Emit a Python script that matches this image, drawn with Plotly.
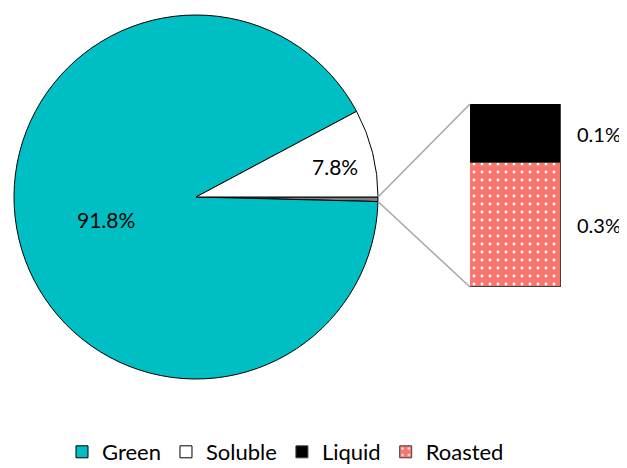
import math
import plotly.graph_objects as go

# ---------------- data ----------------
pie_labels = ["Other", "Green", "Soluble"]
green_value = 91.8
soluble_value = 7.8
bar_labels = ["Liquid", "Roasted"]
bar_values = [0.13, 0.27]          # detail of the small "Other" slice
legend_labels = ["Green", "Soluble", "Liquid", "Roasted"]

other_value = sum(bar_values)
pie_values = [other_value, green_value, soluble_value]
total = sum(pie_values)

# ---------------- style / layout constants ----------------
W, H = 627, 468
OFF = 8  # browser page margin around the figure
FONT = "Lato, Carlito, Calibri, sans-serif"
C_GREEN = "#00BFC4"
C_SOLUBLE = "#FFFFFF"
C_OTHER = "#7F7F7F"
C_LIQUID = "#000000"
C_ROASTED = "#F8766D"
pie_colors = [C_OTHER, C_GREEN, C_SOLUBLE]


def fx(px):
    return (px - OFF) / W


def fy(py):
    return 1 - (py - OFF) / H


pie_dom_x = [fx(14), fx(378)]
pie_dom_y = [fy(380), fy(14)]
bar_dom_x = [fx(470), fx(561)]
bar_dom_y = [fy(287), fy(104)]
rotation_deg = 90  # first slice starts at 3 o'clock, going clockwise

fig = go.Figure()

fig.add_trace(go.Pie(
    labels=pie_labels, values=pie_values, sort=False,
    direction="clockwise", rotation=rotation_deg,
    marker=dict(colors=pie_colors, line=dict(color="#000000", width=1)),
    textinfo="none", hoverinfo="label+percent", showlegend=False,
    domain=dict(x=pie_dom_x, y=pie_dom_y),
))

# stacked bar (Roasted bottom, Liquid top)
bar_colors = {"Liquid": C_LIQUID, "Roasted": C_ROASTED}
for lab in ["Roasted", "Liquid"]:
    v = bar_values[bar_labels.index(lab)]
    mk = dict(color=bar_colors[lab], line=dict(color="#404040", width=1))
    if lab == "Roasted":
        mk["pattern"] = dict(shape=".", fgcolor="#FFFFFF", bgcolor=C_ROASTED,
                             size=8, solidity=0.1, fillmode="replace")
    fig.add_trace(go.Bar(
        x=[0], y=[v], width=[1], name=lab, marker=mk,
        legendrank=legend_labels.index(lab) + 1,
        xaxis="x", yaxis="y",
    ))

# legend-only entries for pie slices
for lab, col in [("Green", C_GREEN), ("Soluble", C_SOLUBLE)]:
    fig.add_trace(go.Bar(
        x=[None], y=[None], name=lab,
        marker=dict(color=col, line=dict(color="#000000", width=1)),
        legendrank=legend_labels.index(lab) + 1,
        xaxis="x", yaxis="y",
    ))

# ---------------- pie geometry for labels and connectors ----------------
cx = (pie_dom_x[0] + pie_dom_x[1]) / 2 * W
cy = (1 - (pie_dom_y[0] + pie_dom_y[1]) / 2) * H
R = min((pie_dom_x[1] - pie_dom_x[0]) * W, (pie_dom_y[1] - pie_dom_y[0]) * H) / 2


def to_paper(px, py):
    return px / W, 1 - py / H


angles = []
a = 90 - rotation_deg  # math angle where the first slice starts
for v in pie_values:
    span = v / total * 360
    angles.append((a, a - span))
    a -= span

label_radius = {"Green": 0.51, "Soluble": 0.78}
label_angle_shift = {"Green": 1.0, "Soluble": -1.8}
annotations = []
for lab, v, (a0, a1) in zip(pie_labels, pie_values, angles):
    if lab not in label_radius:
        continue
    mid = math.radians((a0 + a1) / 2 + label_angle_shift[lab])
    px = cx + label_radius[lab] * R * math.cos(mid)
    py = cy - label_radius[lab] * R * math.sin(mid)
    xp, yp = to_paper(px, py)
    annotations.append(dict(
        x=xp, y=yp, xref="paper", yref="paper", showarrow=False,
        text=f"{v / total * 100:.1f}%", font=dict(size=21, color="#000000", family=FONT),
        xanchor="center", yanchor="middle",
    ))

# bar labels
cum = 0
for lab in ["Roasted", "Liquid"]:
    v = bar_values[bar_labels.index(lab)]
    annotations.append(dict(
        x=0.5, y=cum + v / 2, xref="x", yref="y", showarrow=False,
        text=f"{v / total * 100:.1f}%", xanchor="left", yanchor="middle", xshift=14,
        font=dict(size=20, color="#000000", family=FONT),
    ))
    cum += v

# connector lines from the "Other" slice to the bar
oa0, oa1 = angles[pie_labels.index("Other")]
p_top = (cx + R * math.cos(math.radians(oa0)), cy - R * math.sin(math.radians(oa0)))
p_bot = (cx + R * math.cos(math.radians(oa1)), cy - R * math.sin(math.radians(oa1)))
shapes = []
for (px, py), ybar in [(p_top, bar_dom_y[1]), (p_bot, bar_dom_y[0])]:
    x0, y0 = to_paper(px, py)
    shapes.append(dict(type="line", xref="paper", yref="paper",
                       x0=x0, y0=y0, x1=bar_dom_x[0], y1=ybar,
                       line=dict(color="#A6A6A6", width=1.5)))

fig.update_layout(
    width=W, height=H,
    margin=dict(l=0, r=0, t=0, b=0),
    paper_bgcolor="#FFFFFF", plot_bgcolor="rgba(0,0,0,0)",
    barmode="stack", bargap=0,
    font=dict(family=FONT, color="#000000", size=20),
    xaxis=dict(domain=bar_dom_x, range=[-0.5, 0.5], visible=False, fixedrange=True),
    yaxis=dict(domain=bar_dom_y, range=[0, other_value], visible=False, fixedrange=True),
    showlegend=True,
    legend=dict(orientation="h", x=fx(62), xanchor="left", y=fy(452), yanchor="middle",
                font=dict(size=22, family=FONT, color="#000000"),
                itemwidth=30, tracegroupgap=0, bgcolor="rgba(0,0,0,0)",
                traceorder="normal"),
    annotations=annotations, shapes=shapes,
)

fig.write_html("out.html")
